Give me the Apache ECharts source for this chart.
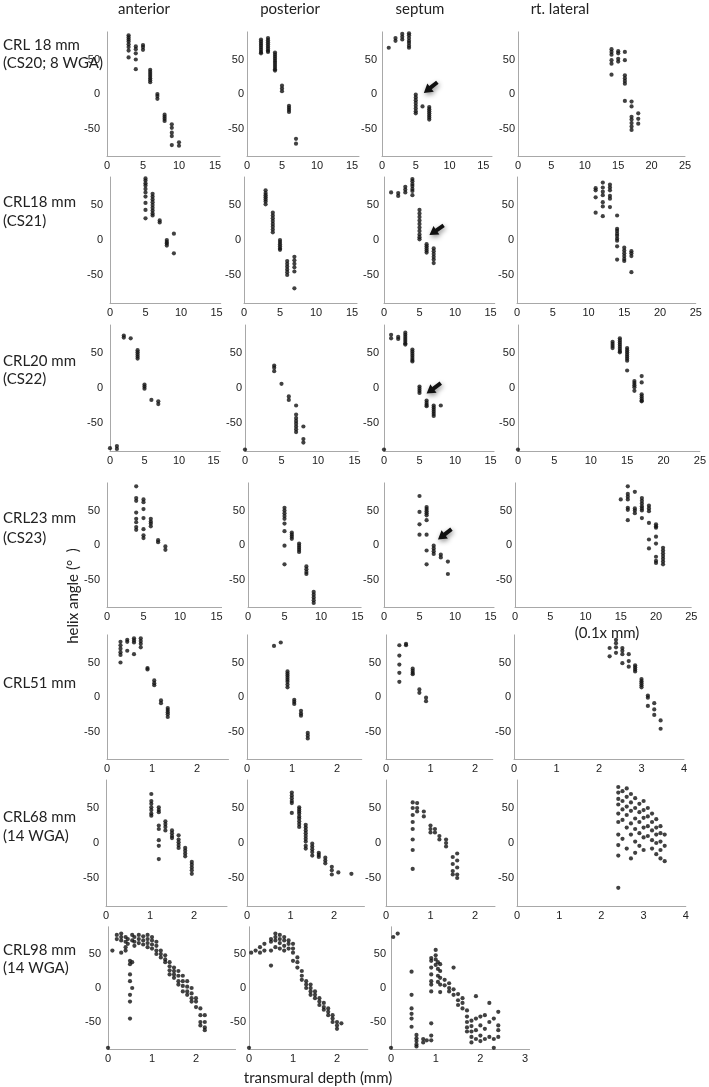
<!DOCTYPE html>
<html><head><meta charset="utf-8">
<script src="https://cdn.jsdelivr.net/npm/echarts@6/dist/echarts.min.js"></script>
<style>html,body{margin:0;padding:0;background:#fff}#c{width:709px;height:1087px}</style>
</head><body><div id="c"></div><script>
// ---- labels ----
const colTitles = ["anterior", "posterior", "septum", "rt. lateral"];
const rowLabels = [["CRL 18 mm", "(CS20; 8 WGA)"], ["CRL18 mm", "(CS21)"], ["CRL20 mm", "(CS22)"], ["CRL23 mm", "(CS23)"], ["CRL51 mm"], ["CRL68 mm", "(14 WGA)"], ["CRL98 mm", "(14 WGA)"]];
const yTickLabels = [-50, 0, 50];
const yAxisTitle = "helix angle (°  )";
const xAxisTitle = "transmural depth (mm)";
const unitNote = "(0.1x mm)";

// ---- data: [x, [helix angles at that depth]] ----
const r1Anterior = [[3,[85,82,79,76,72,68,63,53]],[4,[69,65,59,50,36]],[5,[71,68,64]],[6,[35,32,29,26,23,20,17]],[7,[0,-3,-7]],[8,[-30,-33,-36,-39]],[9,[-44,-49,-56,-61,-74]],[10,[-70,-75]]];
const r1Posterior = [[2,[79,76,73,70,67,64,61,59]],[3,[81,78,75,72,69,66,63,61]],[4,[60,57,54,51,48,45,42,39,36,34]],[5,[12,8,4]],[6,[-17,-20,-23,-26]],[7,[-65,-72]]];
const r1Septum = [[1,[67]],[2,[81,77]],[3,[87,83,79]],[4,[88,85,81,77,74,70,67]],[5,[-1,-5,-9,-13,-17,-21,-25,-28]],[6,[-18]],[7,[-19,-22,-25,-28,-31,-34,-37]],[17,[-90]]];
const r1Lateral = [[14,[65,61,57,49,44,28]],[15,[62,59,51,47]],[16,[61,49,27,23,19,15,-10]],[17,[-11,-18,-33,-37,-42,-47,-52]],[18,[-28,-36,-43]]];

const r2Anterior = [[5,[88,85,81,78,73,68,62,53,43,31]],[6,[66,62,58,54,50,46,42,38,35]],[7,[28,25]],[8,[0,-3,-5,-8]],[9,[9,-19]]];
const r2Posterior = [[3,[71,67,64,61,58,55,51]],[4,[39,35,31,27,23,19,15,11]],[5,[0,-3,-6,-9,-12,-14]],[6,[-30,-34,-38,-42,-46,-50]],[7,[-24,-29,-34,-39,-45,-69]]];
const r2Septum = [[1,[68]],[2,[67,63]],[3,[76,72,68]],[4,[87,84,80,77,73,70,64]],[5,[43,38,33,28,23,18,13,8,4,1]],[6,[-6,-9,-12,-15,-18]],[7,[-12,-16,-20,-24,-28,-33]]];
const r2Lateral = [[11,[74,71,61,39]],[12,[82,75,69,64,54,48,34]],[13,[79,75,71,63,59,47]],[14,[35,16,13,9,6,2,-1,-9,-28]],[15,[-11,-15,-19,-23,-27,-30]],[16,[-16,-19,-23,-46]]];

const r3Anterior = [[0,[-86]],[1,[-83,-87]],[2,[75,72]],[3,[71]],[4,[54,51,48,45,42]],[5,[5,2,-1]],[6,[-17]],[7,[-19,-23]]];
const r3Posterior = [[0,[-88]],[4,[32,29,24]],[5,[6]],[6,[-12,-17]],[7,[-25,-38,-43,-47,-51,-55,-59,-63]],[8,[-55,-73,-78]]];
const r3Septum = [[0,[-88]],[1,[76,71]],[2,[73,70]],[3,[79,76,73,70,67,64,62]],[4,[55,52,49,46,43,40,38]],[5,[2,-1,-4,-7]],[6,[-18,-21,-24,-26]],[7,[-25,-28,-31,-34,-37,-40]],[8,[-25]]];
const r3Lateral = [[0,[-88]],[13,[66,63,60,57]],[14,[71,68,65,62,59,56,53,51]],[15,[57,54,51,48,45,42,39,25]],[16,[10,7,4,1,-4]],[17,[17,8,-9,-12,-15,-18,-19]]];

const r4Anterior = [[4,[85,68,64,47,38,33,26,22]],[5,[66,62,52,39,23,14,10]],[6,[38,34,31,27]],[7,[7,4]],[8,[-2,-7]]];
const r4Posterior = [[5,[54,50,46,42,38,31,20,-1,-28]],[6,[18,15,12,9]],[7,[2,-1,-4,-7,-10]],[8,[-31,-35,-39,-42]],[9,[-68,-72,-76,-80,-84]]];
const r4Septum = [[5,[71,48,30,15]],[6,[55,52,49,46,43,36,15,-8,-28]],[7,[-1,-5,-9,-13]],[8,[-14,-18]],[9,[-24,-42]]];
const r4Lateral = [[15,[66]],[16,[85,74,70,66,54,51,36]],[17,[77,53,50,46]],[18,[68,64,60,56,53,50,39]],[19,[57,53,49,32,8,-5]],[20,[30,27,25,12,2,-17,-23,-26]],[21,[-4,-8,-12,-16,-20,-24,-28]]];

const r5Anterior = [[0.3,[80,75,70,65,61,50]],[0.45,[83,80,67]],[0.6,[85,82,79,62]],[0.75,[85,81,77,72]],[0.9,[42,40]],[1.05,[24,20,17]],[1.2,[-5,-9]],[1.35,[-16,-19,-22,-25,-29]]];
const r5Posterior = [[0.6,[74]],[0.75,[79]],[0.9,[37,34,31,28,25,22,18,14]],[1.05,[-4,-7,-10]],[1.2,[-20,-24,-27]],[1.35,[-52,-56,-60]]];
const r5Septum = [[0.3,[75,60,47,35,22]],[0.45,[77,75]],[0.6,[41,38,35,33]],[0.75,[11,6]],[0.9,[-1,-6]]];
const r5Lateral = [[2.25,[71,59]],[2.4,[83,78,72,64]],[2.55,[71,67,62,49]],[2.7,[62,52,44]],[2.85,[46,43,40,37]],[3.0,[26,23,20,17,14]],[3.15,[2,-1,-13]],[3.3,[-9,-18,-26]],[3.45,[-34,-46]]];

const r6Anterior = [[1.03,[70,60,56,51,47,42,39]],[1.2,[51,47,44,25,20,4,-4,-23]],[1.35,[31,27,23,18]],[1.5,[18,14,10,7]],[1.65,[11,5,1,-3,-7]],[1.8,[-7,-11,-15,-19]],[1.95,[-27,-31,-35,-39,-44]]];
const r6Posterior = [[1.03,[72,68,64,60,57,43]],[1.2,[51,48,45,42,38,35,31,27,23]],[1.35,[26,22,18,14,10,6,2,-4,-8]],[1.5,[-1,-5,-9,-13,-18]],[1.65,[-14,-17,-20]],[1.8,[-21,-25,-29]],[1.95,[-34,-39,-45]],[2.1,[-42]],[2.4,[-44]]];
const r6Septum = [[0.6,[58,50,40,30,20,5,-10,-37]],[0.7,[57,50,45]],[0.85,[45,38]],[1.0,[25,20,15]],[1.1,[20,15]],[1.2,[10,5]],[1.35,[5,0,-5]],[1.5,[-20,-30,-40,-45]],[1.6,[-15,-25,-35,-45,-50]]];
const r6Lateral = [[2.4,[80,72,63,55,42,30,12,-3,-18,-64]],[2.5,[74,60,48,33,6]],[2.6,[78,66,52,40,22,-8]],[2.7,[70,58,46,28,12,-22]],[2.8,[64,50,35,20,2,-14]],[2.9,[56,44,30,14,-4]],[3.0,[60,47,36,22,8,-10]],[3.1,[50,38,24,10]],[3.2,[42,30,18,4,-8]],[3.3,[34,22,12,0,-16]],[3.4,[24,14,2,-10,-22]],[3.5,[12,-4,-26]]];

const r7Anterior = [[0,[-88]],[0.1,[55]],[0.2,[78,72]],[0.3,[80,75,70,52]],[0.4,[75,68,60,55]],[0.45,[72,65]],[0.5,[40,35,20,10,-10,-20,-45]],[0.55,[78,70,38,0]],[0.6,[75,68,62]],[0.7,[78,72,66]],[0.8,[76,70,64]],[0.9,[78,72,66,60]],[1.0,[75,70,64,58]],[1.1,[68,62,55,50]],[1.2,[55,50,45]],[1.3,[48,42,38]],[1.4,[38,32,26,20]],[1.5,[30,25,20,15]],[1.6,[25,18,10,5]],[1.7,[18,10,3,-5]],[1.8,[10,2,-5,-10]],[1.9,[0,-8,-15,-20]],[2.0,[-15,-20,-28]],[2.1,[-30,-40,-50,-55]],[2.2,[-40,-50,-58,-62]]];
const r7Posterior = [[0,[-88]],[0.05,[52]],[0.15,[55]],[0.25,[60,52]],[0.35,[65,55]],[0.5,[72,68,55,33]],[0.6,[80,75,70,60]],[0.7,[78,72,66,58]],[0.8,[75,70,62,55]],[0.9,[70,65,58]],[1.0,[65,58,52,40]],[1.1,[45,38,30]],[1.2,[25,18,12]],[1.3,[10,5,0]],[1.4,[5,0,-5,-10]],[1.5,[-5,-10,-15]],[1.6,[-15,-20,-25]],[1.7,[-22,-28,-32]],[1.8,[-30,-35,-40]],[1.9,[-40,-45,-50]],[2.0,[-50,-55,-60]],[2.1,[-52]]];
const r7Septum = [[0,[-88]],[0.05,[75]],[0.15,[80]],[0.46,[24,-10,-30,-38,-45,-57]],[0.57,[-69,-74,-78,-83,-86]],[0.72,[-75,-80]],[0.8,[-77]],[0.9,[44,40,30,20,10,5,-5,-52,-70,-77]],[1.0,[56,48,42,34]],[1.05,[38,28,18,9]],[1.1,[35,25,15,5,-6]],[1.2,[12,4]],[1.3,[7,0,-5]],[1.4,[30,-2,-10]],[1.5,[-9,-18,-25]],[1.6,[-15,-22,-30]],[1.7,[-33,-42,-50,-58,-64]],[1.8,[-48,-56,-64,-72,-80]],[1.9,[-12,-45,-62,-75]],[2.0,[-42,-55,-70,-78]],[2.1,[-40,-60,-75]],[2.2,[-22,-50,-72]],[2.3,[-45,-75,-88]],[2.4,[-35,-55,-62,-72]]];

const panelData = [
  [r1Anterior, r1Posterior, r1Septum, r1Lateral],
  [r2Anterior, r2Posterior, r2Septum, r2Lateral],
  [r3Anterior, r3Posterior, r3Septum, r3Lateral],
  [r4Anterior, r4Posterior, r4Septum, r4Lateral],
  [r5Anterior, r5Posterior, r5Septum, r5Lateral],
  [r6Anterior, r6Posterior, r6Septum, r6Lateral],
  [r7Anterior, r7Posterior, r7Septum]
];
// arrows in septum panels (rows 1-4): [tailX, tailY, tipX, tipY]
const septumArrows = [[8.2,17,6.2,1.5],[8.4,21,6.4,7],[8.0,7,6.0,-8],[9.5,23,7.6,8]];

// ---- layout (pixels) ----
const rowZeroY = [94, 240, 388, 545, 697, 843, 988];
const rowPxPerDeg = [0.69, 0.70, 0.70, 0.69, 0.69, 0.70, 0.68];
const panelX = [ // [x of zero, px per unit, xMax]
  [[107,7.2,15.7],[247,7.0,16],[382,6.75,16.3],[518,6.68,25]],
  [[110,7.1,15.6],[244,7.2,15.7],[384,7.1,15.6],[517,7.15,25]],
  [[110,6.9,16],[245,7.3,15.5],[384,7.1,15.5],[518,7.3,25]],
  [[107,7.3,15.7],[248,7.3,15.5],[384,7.1,15.5],[515,7.05,25]],
  [[107,45,2.7],[247,45,2.55],[386,44.5,2.4],[514,42.5,4]],
  [[106,44,2.75],[247,43.5,2.7],[386,44.5,2.45],[517,42.2,4]],
  [[108,44,2.9],[249,44,2.7],[391,44.7,3.1]]
];
const yLabelMargin = [7, 3, 5, 3];
const titleX = [144, 290, 420, 560];
const rowLabelY = [[45,63],[202,221],[361,379],[518,538],[683],[817,836],[950,968]];

const grids = [], xAxes = [], yAxes = [], series = [];
const septumGridIndex = [];
const labelFont = 'Liberation Sans';
const axisGray = '#a8a8a8';
panelData.forEach((row, r) => {
  row.forEach((cols, c) => {
    const [x0, sx, xMax] = panelX[r][c];
    const sy = rowPxPerDeg[r];
    const idx = grids.length;
    if (c === 2) septumGridIndex.push(idx);
    grids.push({left: x0, top: rowZeroY[r] - 90 * sy, width: xMax * sx, height: 180 * sy});
    const interval = (r < 4) ? 5 : 1;
    xAxes.push({
      type: 'value', gridIndex: idx, min: 0, max: xMax, interval: interval, position: 'bottom',
      axisLine: {onZero: false, lineStyle: {color: axisGray, width: 1}},
      axisTick: {show: false}, splitLine: {show: false},
      axisLabel: {color: '#222', fontFamily: labelFont, fontSize: 11, margin: 4,
        formatter: v => (Math.abs(v / interval - Math.round(v / interval)) < 1e-6) ? String(Math.round(v)) : ''}
    });
    yAxes.push({
      type: 'value', gridIndex: idx, min: -90, max: 90, interval: 10, position: 'left',
      axisLine: {show: true, onZero: false, lineStyle: {color: axisGray, width: 1}},
      axisTick: {show: false}, splitLine: {show: false},
      axisLabel: {color: '#222', fontFamily: labelFont, fontSize: 11, margin: yLabelMargin[c],
        formatter: v => yTickLabels.includes(Math.round(v)) ? String(Math.round(v)) : ''}
    });
    const pts = [];
    cols.forEach(([x, ys]) => ys.forEach(y => pts.push([x, y])));
    series.push({
      type: 'scatter', xAxisIndex: idx, yAxisIndex: idx, data: pts,
      symbol: 'circle', symbolSize: 4.2, itemStyle: {color: '#111'}, silent: true, animation: false
    });
  });
});

const textFont = 'Lato';
const txt = (t, x, y, align, size) => ({type: 'text', x: x, y: y, silent: true,
  style: {text: t, font: size + 'px ' + textFont, fill: '#222', align: align, verticalAlign: 'middle', textAlign: align, textVerticalAlign: 'middle'}});
const graphic = [];
colTitles.forEach((t, i) => graphic.push(txt(t, titleX[i], 9, 'center', 15)));
rowLabels.forEach((lines, r) => lines.forEach((t, k) => graphic.push(txt(t, 3, rowLabelY[r][k], 'left', 15))));
const yt = txt(yAxisTitle, 73, 596, 'center', 15); yt.rotation = Math.PI / 2; graphic.push(yt);
graphic.push(txt(unitNote, 607, 633, 'center', 15));
graphic.push(txt(xAxisTitle, 318, 1078, 'center', 15));

const chart = echarts.init(document.getElementById('c'), null, {renderer: 'canvas'});
chart.setOption({backgroundColor: '#fff', animation: false, grid: grids, xAxis: xAxes, yAxis: yAxes, series: series});

// arrows: positioned through the septum panels' own axes
septumArrows.forEach((a, r) => {
  const g = septumGridIndex[r];
  const p0 = chart.convertToPixel({gridIndex: g}, [a[0], a[1]]);
  const p1 = chart.convertToPixel({gridIndex: g}, [a[2], a[3]]);
  const dx = p1[0] - p0[0], dy = p1[1] - p0[1], len = Math.hypot(dx, dy);
  const ux = dx / len, uy = dy / len, nx = -uy, ny = ux;
  const headL = 8.5, headW = 5.2, shaftW = 2.0;
  const bx = p1[0] - ux * headL, by = p1[1] - uy * headL;
  graphic.push({type: 'polygon', silent: true,
    shape: {points: [
      [p1[0], p1[1]], [bx + nx * headW, by + ny * headW], [bx + nx * shaftW, by + ny * shaftW],
      [p0[0] + nx * shaftW, p0[1] + ny * shaftW], [p0[0] - nx * shaftW, p0[1] - ny * shaftW],
      [bx - nx * shaftW, by - ny * shaftW], [bx - nx * headW, by - ny * headW]]},
    style: {fill: '#111', shadowBlur: 5, shadowColor: 'rgba(0,0,0,0.45)', shadowOffsetX: 1, shadowOffsetY: 2}});
});
chart.setOption({graphic: graphic});
</script></body></html>
